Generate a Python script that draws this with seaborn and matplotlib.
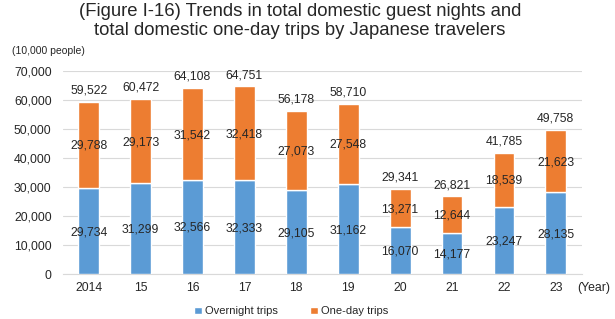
import matplotlib
matplotlib.use("Agg")
import matplotlib.pyplot as plt
import seaborn as sns
import pandas as pd
import numpy as np

years = ["2014", "15", "16", "17", "18", "19", "20", "21", "22", "23"]
overnight = [29734, 31299, 32566, 32333, 29105, 31162, 16070, 14177, 23247, 28135]
oneday = [29788, 29173, 31542, 32418, 27073, 27548, 13271, 12644, 18539, 21623]
totals = [59522, 60472, 64108, 64751, 56178, 58710, 29341, 26821, 41785, 49758]

sns.set_theme(style="white")
plt.rcParams['font.family'] = ['Liberation Sans', 'DejaVu Sans']

blue = "#5B9BD5"
orange = "#ED7D31"

df = pd.DataFrame({"year": years, "overnight": overnight, "oneday": oneday, "total": totals})

fig = plt.figure(figsize=(6.15, 3.19), dpi=100)
ax = fig.add_axes([0.102, 0.141, 0.844, 0.636])

sns.barplot(data=df, x="year", y="overnight", color=blue, width=0.4, ax=ax,
            label="Overnight trips", saturation=1, zorder=3)
sns.barplot(data=df, x="year", y="oneday", color=orange, width=0.4, ax=ax,
            bottom=df["overnight"].values, label="One-day trips", saturation=1, zorder=3)

ax.set_ylim(0, 70000)
ax.set_xlim(-0.5, len(years) - 0.5)
ax.set_yticks(np.arange(0, 70001, 10000))
ax.set_yticklabels([f"{v:,}" for v in range(0, 70001, 10000)], fontsize=8.8)
ax.tick_params(axis='x', labelsize=8.8, length=0, pad=6)
ax.tick_params(axis='y', length=0, pad=8)
ax.set_xlabel("")
ax.set_ylabel("")
ax.grid(axis='y', color="#D9D9D9", linewidth=0.8, zorder=0)
for s in ["top", "right", "left"]:
    ax.spines[s].set_visible(False)
ax.spines["bottom"].set_color("#D9D9D9")
ax.spines["bottom"].set_linewidth(0.8)

for i in range(len(years)):
    ax.text(i, overnight[i] / 2 - 400, f"{overnight[i]:,}", ha="center", va="center", fontsize=8.8, zorder=4)
    ax.text(i, overnight[i] + oneday[i] / 2 - 400, f"{oneday[i]:,}", ha="center", va="center", fontsize=8.8, zorder=4)
    ax.text(i, totals[i] + 1800, f"{totals[i]:,}", ha="center", va="bottom", fontsize=8.8, zorder=4)

fig.text(0.488, 0.99, "(Figure I-16) Trends in total domestic guest nights and\ntotal domestic one-day trips by Japanese travelers",
         ha="center", va="top", fontsize=13.3, linespacing=1.15)
fig.text(0.02, 0.84, "(10,000 people)", ha="left", va="center", fontsize=7.5)
fig.text(0.938, 0.097, "(Year)", ha="left", va="center", fontsize=8.8)

handles, labels = ax.get_legend_handles_labels()
leg = ax.legend(handles, labels, loc="upper center", bbox_to_anchor=(0.44, -0.11), ncol=2,
                frameon=False, fontsize=8, handlelength=0.7, handleheight=0.7,
                handletextpad=0.3, columnspacing=2.9)

fig.savefig("out.png", dpi=100)
